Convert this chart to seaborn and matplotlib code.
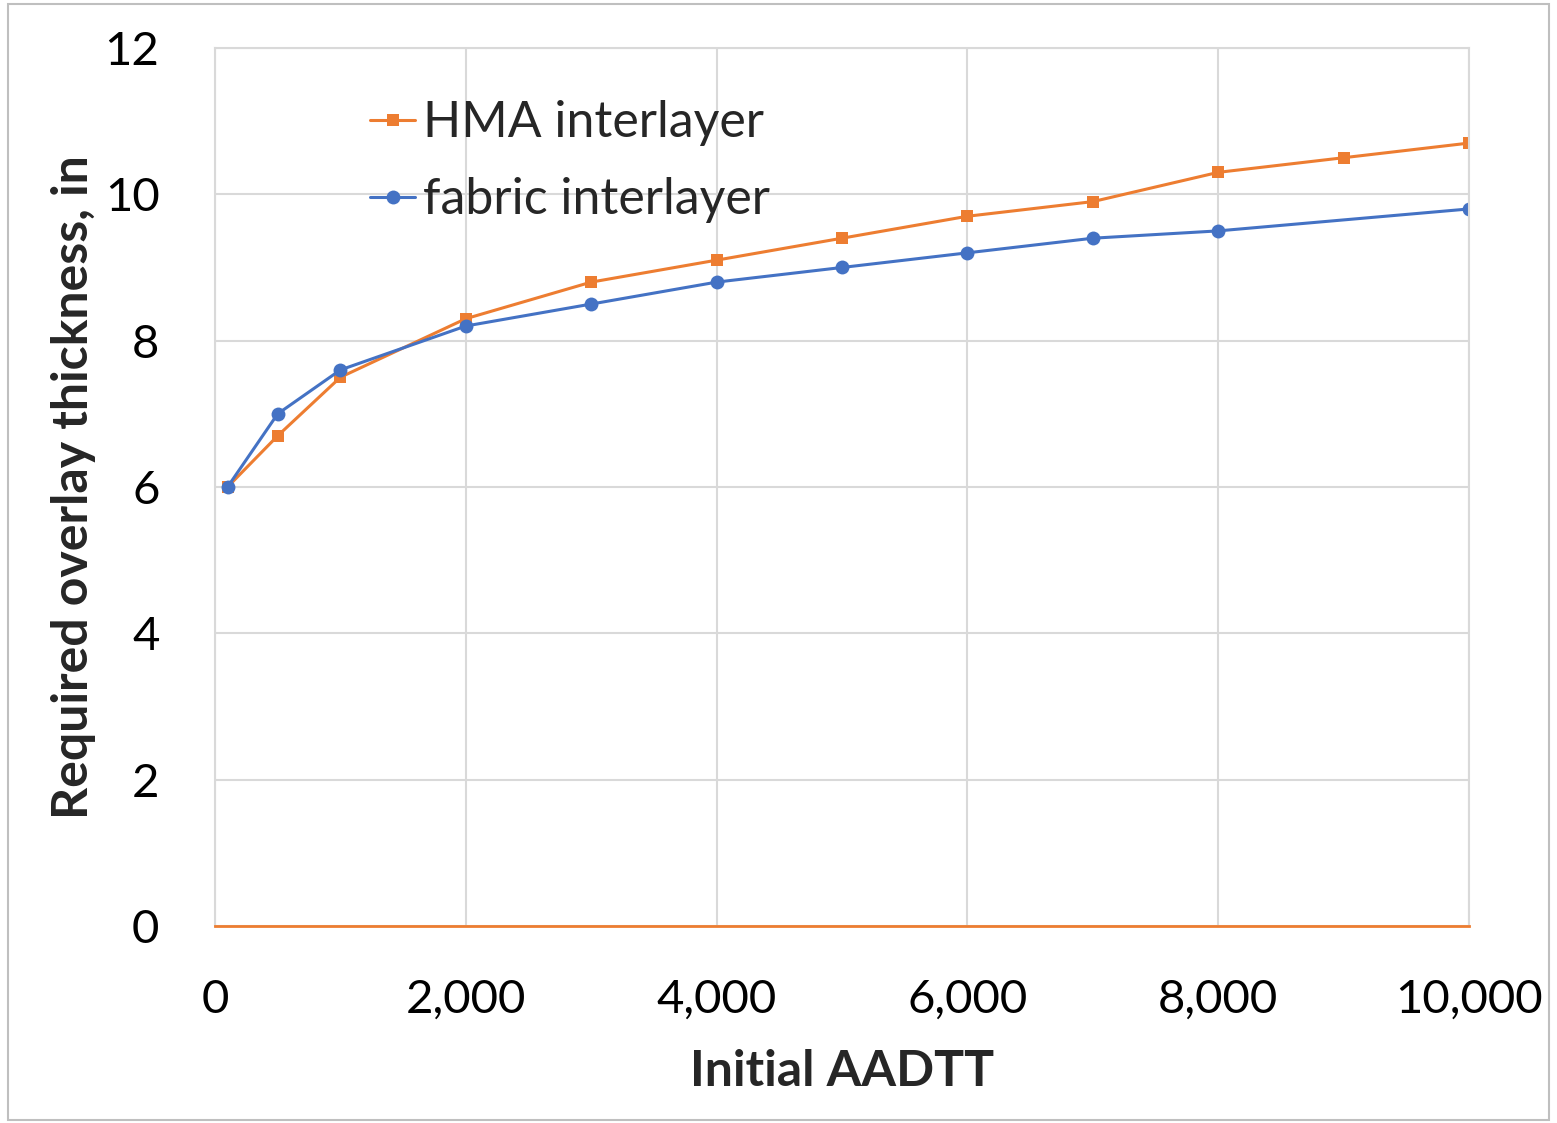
import pandas as pd
import seaborn as sns
import matplotlib.pyplot as plt
from matplotlib.patches import Rectangle
from matplotlib.ticker import FuncFormatter

sns.set_style("white")
plt.rcParams["font.family"] = ["Lato", "DejaVu Sans"]

# values
hma_aadtt = [100, 500, 1000, 2000, 3000, 4000, 5000, 6000, 7000, 8000, 9000,
             10000]
hma_thickness = [6.0, 6.7, 7.5, 8.3, 8.8, 9.1, 9.4, 9.7, 9.9, 10.3, 10.5,
                 10.7]
fabric_aadtt = [100, 500, 1000, 2000, 3000, 4000, 5000, 6000, 7000, 8000,
                10000]
fabric_thickness = [6.0, 7.0, 7.6, 8.2, 8.5, 8.8, 9.0, 9.2, 9.4, 9.5, 9.8]

orange = "#ED7D31"
blue = "#4472C4"

hma = pd.DataFrame({"aadtt": hma_aadtt, "thickness": hma_thickness})
fabric = pd.DataFrame({"aadtt": fabric_aadtt, "thickness": fabric_thickness})

fig = plt.figure(figsize=(15.57, 11.23), dpi=100)
ax = fig.add_axes([0.1381, 0.1754, 0.8054, 0.7819])

sns.lineplot(x="aadtt", y="thickness", data=hma, ax=ax, color=orange,
             marker="s", markersize=8, markeredgewidth=0, linewidth=2.2,
             label="HMA interlayer")
sns.lineplot(x="aadtt", y="thickness", data=fabric, ax=ax, color=blue,
             marker="o", markersize=10, markeredgewidth=0, linewidth=2.2,
             label="fabric interlayer")

ax.set_xlim(0, 10000)
ax.set_ylim(0, 12)
ax.set_xticks(range(0, 10001, 2000))
ax.set_yticks(range(0, 13, 2))
ax.xaxis.set_major_formatter(FuncFormatter(lambda v, p: f"{int(v):,}"))
ax.grid(True, color="#D9D9D9", linewidth=1.5)
ax.tick_params(axis="both", length=0, labelsize=34, labelcolor="black")
ax.tick_params(axis="y", pad=40)
ax.tick_params(axis="x", pad=38)

for side in ["left", "top", "right"]:
    ax.spines[side].set_color("#D9D9D9")
    ax.spines[side].set_linewidth(1.5)
ax.spines["bottom"].set_color(orange)
ax.spines["bottom"].set_linewidth(2)

ax.set_xlabel("Initial AADTT", fontsize=36, fontweight="bold", labelpad=20)
ax.set_ylabel("Required overlay thickness, in", fontsize=36,
              fontweight="bold", labelpad=6)

ax.legend(loc="upper left", bbox_to_anchor=(0.108, 0.963), frameon=False,
          fontsize=36, handlelength=0.9, handletextpad=0.15,
          labelspacing=0.62, borderaxespad=0)

fig.patches.append(Rectangle((0.005, 0.003), 0.99, 0.993,
                             transform=fig.transFigure, fill=False,
                             edgecolor="#BFBFBF", linewidth=1.5))

fig.savefig("out.png", dpi=100)
plt.close(fig)
